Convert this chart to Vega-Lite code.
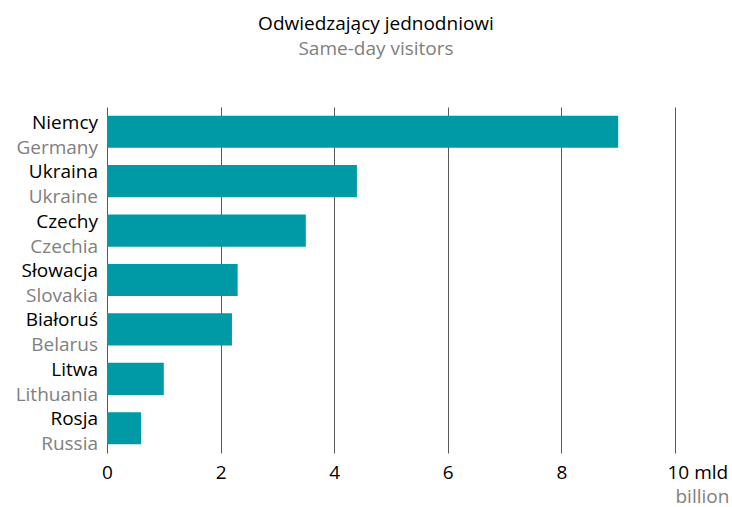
{
  "$schema": "https://vega.github.io/schema/vega-lite/v6.json",
  "width": 568,
  "height": 346,
  "autosize": {"type": "none"},
  "padding": {"left": 107, "top": 107, "right": 57, "bottom": 54},
  "background": "white",
  "config": {"view": {"stroke": null}},
  "title": {
    "text": "Odwiedzający jednodniowi",
    "subtitle": "Same-day visitors",
    "font": "Open Sans",
    "fontSize": 19,
    "fontWeight": "normal",
    "color": "#000000",
    "subtitleFont": "Open Sans",
    "subtitleFontSize": 19,
    "subtitleColor": "#808080",
    "subtitlePadding": 6,
    "anchor": "middle",
    "frame": "group",
    "offset": 48,
    "dx": -15
  },
  "data": {
    "values": [
      {"pl": "Niemcy", "en": "Germany", "v": 9.0},
      {"pl": "Ukraina", "en": "Ukraine", "v": 4.4},
      {"pl": "Czechy", "en": "Czechia", "v": 3.5},
      {"pl": "Słowacja", "en": "Slovakia", "v": 2.3},
      {"pl": "Białoruś", "en": "Belarus", "v": 2.2},
      {"pl": "Litwa", "en": "Lithuania", "v": 1.0},
      {"pl": "Rosja", "en": "Russia", "v": 0.6}
    ]
  },
  "encoding": {
    "y": {
      "field": "pl",
      "type": "nominal",
      "sort": null,
      "scale": {"paddingInner": 0.35, "paddingOuter": 0.175},
      "axis": null
    }
  },
  "layer": [
    {
      "mark": {"type": "bar", "color": "#0099a6"},
      "encoding": {
        "x": {
          "field": "v",
          "type": "quantitative",
          "scale": {"domain": [0, 10], "nice": false},
          "axis": {
            "values": [0, 2, 4, 6, 8, 10],
            "format": "d",
            "grid": true,
            "gridColor": "#5a5a5a",
            "gridWidth": 1,
            "domain": false,
            "ticks": false,
            "labelFont": "Open Sans",
            "labelFontSize": 19,
            "labelColor": "#000000",
            "labelPadding": 10,
            "labelExpr": "datum.value == 10 ? '10 mld' : datum.label",
            "labelAlign": {"condition": {"test": "datum.value == 10", "value": "left"}, "value": "center"},
            "labelOffset": {"condition": {"test": "datum.value == 10", "value": -8}, "value": 0},
            "title": "billion",
            "titleFont": "Open Sans",
            "titleFontSize": 19,
            "titleFontWeight": "normal",
            "titleColor": "#808080",
            "titleAnchor": "end",
            "titleAlign": "left",
            "titlePadding": 5
          }
        }
      }
    },
    {
      "mark": {"type": "text", "align": "right", "baseline": "alphabetic", "dx": -9, "dy": -3, "font": "Open Sans", "fontSize": 19, "color": "#000000"},
      "encoding": {"x": {"datum": 0}, "text": {"field": "pl"}}
    },
    {
      "mark": {"type": "text", "align": "right", "baseline": "alphabetic", "dx": -9, "dy": 22, "font": "Open Sans", "fontSize": 19, "color": "#808080"},
      "encoding": {"x": {"datum": 0}, "text": {"field": "en"}}
    }
  ]
}
